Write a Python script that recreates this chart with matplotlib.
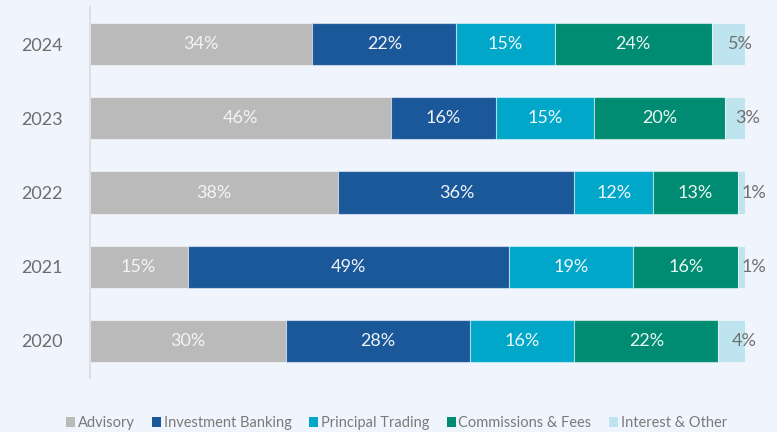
import matplotlib.pyplot as plt
from matplotlib.patches import Patch

# revenue mix by year, share in %
years = ["2020", "2021", "2022", "2023", "2024"]
categories = ["Advisory", "Investment Banking", "Principal Trading",
              "Commissions & Fees", "Interest & Other"]
advisory = [30, 15, 38, 46, 34]
investment_banking = [28, 49, 36, 16, 22]
principal_trading = [16, 19, 12, 15, 15]
commissions_fees = [22, 16, 13, 20, 24]
interest_other = [4, 1, 1, 3, 5]

colors = ["#bababa", "#1b5899", "#00a7c9", "#008c72", "#bee4ef"]
label_colors = ["#f4f4f4", "#eef3f9", "#eef8fb", "#eaf6f2", "#6f6f6f"]
bg = "#f0f5fd"

plt.rcParams["font.family"] = ["Lato", "DejaVu Sans"]

fig = plt.figure(figsize=(7.77, 4.32), dpi=100)
fig.patch.set_facecolor(bg)
ax = fig.add_axes([89.5 / 777, 1 - 378 / 432, (745 - 89.5) / 777, 371 / 432])
ax.set_facecolor(bg)

series = [advisory, investment_banking, principal_trading, commissions_fees, interest_other]
left = [0] * len(years)
for k, (vals, col, tcol) in enumerate(zip(series, colors, label_colors)):
    ax.barh(range(len(years)), vals, left=left, height=0.57, color=col,
            edgecolor=(1, 1, 1, 0.5), linewidth=0.8)
    last = k == len(series) - 1
    for i, v in enumerate(vals):
        # small trailing slice: label starts at its midpoint and spills out
        ax.text(left[i] + v / 2, i, f"{v}%", ha="left" if last else "center",
                va="center", color=tcol, fontsize=13, zorder=5, clip_on=False)
    left = [l + v for l, v in zip(left, vals)]

ax.set_xlim(0, 100.05)
ax.set_ylim(-0.5, 4.5)
ax.set_yticks(range(len(years)))
ax.set_yticklabels(years, fontsize=13, color="#6d6d6d")
ax.tick_params(axis="y", length=0, pad=19)
ax.set_xticks([])
for s in ["top", "right", "bottom"]:
    ax.spines[s].set_visible(False)
ax.spines["left"].set_color("#dcdfe3")
ax.spines["left"].set_linewidth(1.5)

handles = [Patch(facecolor=c, edgecolor="none", label=n) for c, n in zip(colors, categories)]
fig.legend(handles=handles, loc="center", bbox_to_anchor=(0.51, 9 / 432), ncol=5,
           frameon=False, fontsize=10.5, labelcolor="#7a7a7a", handlelength=0.65,
           handleheight=0.65, handletextpad=0.15, columnspacing=1.2)

fig.savefig("out.png", dpi=100, facecolor=bg)
